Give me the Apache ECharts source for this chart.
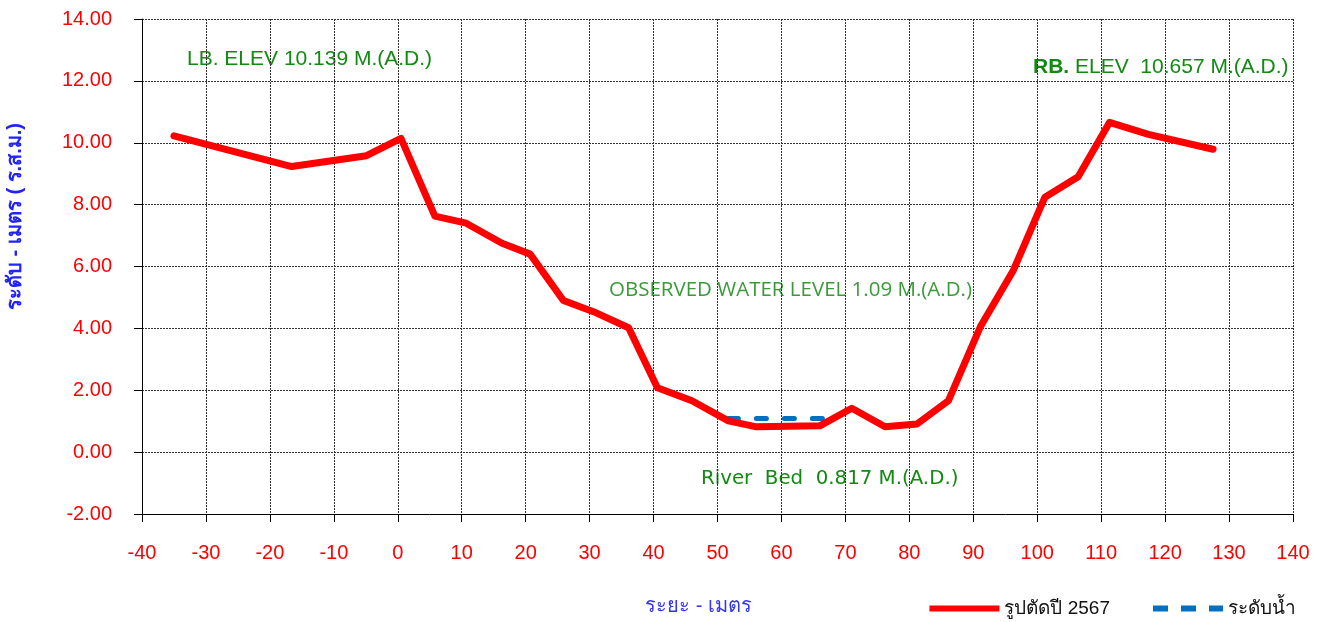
<!DOCTYPE html>
<html>
<head>
<meta charset="utf-8">
<script src="https://cdn.jsdelivr.net/npm/echarts@6/dist/echarts.min.js"></script>
<style>
  html, body { margin: 0; padding: 0; background: #fff; }
  #chart { width: 1327px; height: 622px; }
</style>
</head>
<body>
<div id="chart"></div>
<script>
// cross section survey (distance in m, elevation in m above datum)
const distance = [-35.0, -16.6, -4.9, 0.5, 5.8, 10.7, 16.3, 20.7, 25.9, 30.6, 36.1, 40.6, 46.0, 51.7, 56.1, 66.0, 71.0, 76.2, 81.2, 86.1, 91.1, 96.3, 101.2, 106.4, 111.3, 117.4, 127.5]
const elevation = [10.22, 9.23, 9.58, 10.139, 7.63, 7.40, 6.75, 6.40, 4.90, 4.54, 4.02, 2.08, 1.66, 1.01, 0.817, 0.85, 1.42, 0.82, 0.91, 1.66, 4.05, 5.89, 8.24, 8.90, 10.657, 10.27, 9.79]
// observed water level
const waterDistance = [51.7, 66.4]
const waterLevel = [1.09, 1.09]

const seriesNames = ['รูปตัดปี 2567', 'ระดับน้ำ']

const chart = echarts.init(document.getElementById('chart'))
const green = '#128a12'

chart.setOption({
  animation: false,
  grid: {
    left: 142,
    right: 34,
    top: 19,
    bottom: 108,
    outerBoundsMode: 'none'
  },
  xAxis: {
    type: 'value',
    min: -40,
    max: 140,
    interval: 10,
    name: 'ระยะ - เมตร',
    nameLocation: 'middle',
    nameGap: 82,
    nameTextStyle: {
      color: '#3333ff',
      fontSize: 20,
      padding: [0, 38, 0, 0]
    },
    axisLine: { onZero: false, lineStyle: { color: '#000', width: 1 } },
    axisTick: { show: true, length: 8, lineStyle: { color: '#000' } },
    axisLabel: { color: '#ff0000', fontSize: 20, fontFamily: 'Liberation Sans', margin: 29 },
    splitLine: { show: true, lineStyle: { color: '#333', type: [2, 1], width: 1 } }
  },
  yAxis: {
    type: 'value',
    min: -2,
    max: 14,
    interval: 2,
    name: 'ระดับ - เมตร ( ร.ส.ม.)',
    nameLocation: 'middle',
    nameGap: 117,
    nameRotate: 90,
    nameTextStyle: {
      color: '#2222ff',
      fontSize: 20,
      fontWeight: 'bold',
      padding: [0, 0, 0, 100]
    },
    axisLine: { show: true, onZero: false, lineStyle: { color: '#000', width: 1 } },
    axisTick: { show: true, length: 8, lineStyle: { color: '#000' } },
    axisLabel: {
      color: '#ff0000',
      fontSize: 20,
      fontFamily: 'Liberation Sans',
      margin: 30,
      formatter: v => v.toFixed(2)
    },
    splitLine: { show: true, lineStyle: { color: '#333', type: [2, 1], width: 1 } }
  },
  legend: {
    right: 26,
    top: 594,
    itemWidth: 70,
    itemHeight: 6,
    itemGap: 43,
    textStyle: { color: '#111', fontSize: 19, fontFamily: 'Liberation Sans' },
    data: [
      { name: seriesNames[0], icon: 'path://M0,0H70V6H0Z' },
      { name: seriesNames[1], icon: 'path://M0,0H15V6H0Z M28,0H43V6H28Z M56,0H70V6H56Z' }
    ]
  },
  series: [
    {
      name: seriesNames[0],
      type: 'line',
      data: distance.map((d, i) => [d, elevation[i]]),
      symbol: 'none',
      color: '#ff0000',
      lineStyle: { color: '#ff0000', width: 7, cap: 'round', join: 'round' },
      z: 3
    },
    {
      name: seriesNames[1],
      type: 'line',
      data: waterDistance.map((d, i) => [d, waterLevel[i]]),
      symbol: 'none',
      color: '#0070c0',
      lineStyle: { color: '#0070c0', width: 5, type: [10, 18], cap: 'round' },
      z: 2
    }
  ],
  graphic: [
    {
      type: 'text', left: 187, top: 49,
      style: { text: 'LB. ELEV 10.139 M.(A.D.)', fill: green, font: '21px "Liberation Sans"' }
    },
    {
      type: 'text', left: 1033, top: 57,
      style: {
        text: '{b|RB.} ELEV  10.657 M.(A.D.)',
        fill: green,
        font: '21px "Liberation Sans"',
        rich: { b: { fontWeight: 'bold', fontSize: 21, fontFamily: 'Liberation Sans', fill: green } }
      }
    },
    {
      type: 'text', left: 609, top: 280,
      style: { text: 'OBSERVED WATER LEVEL 1.09 M.(A.D.)', fill: '#3a9a3a', font: '20.5px "Open Sans"' }
    },
    {
      type: 'text', left: 701, top: 469,
      style: { text: 'River  Bed  0.817 M.(A.D.)', fill: green, font: '19.8px "DejaVu Sans"' }
    }
  ]
})
</script>
</body>
</html>
